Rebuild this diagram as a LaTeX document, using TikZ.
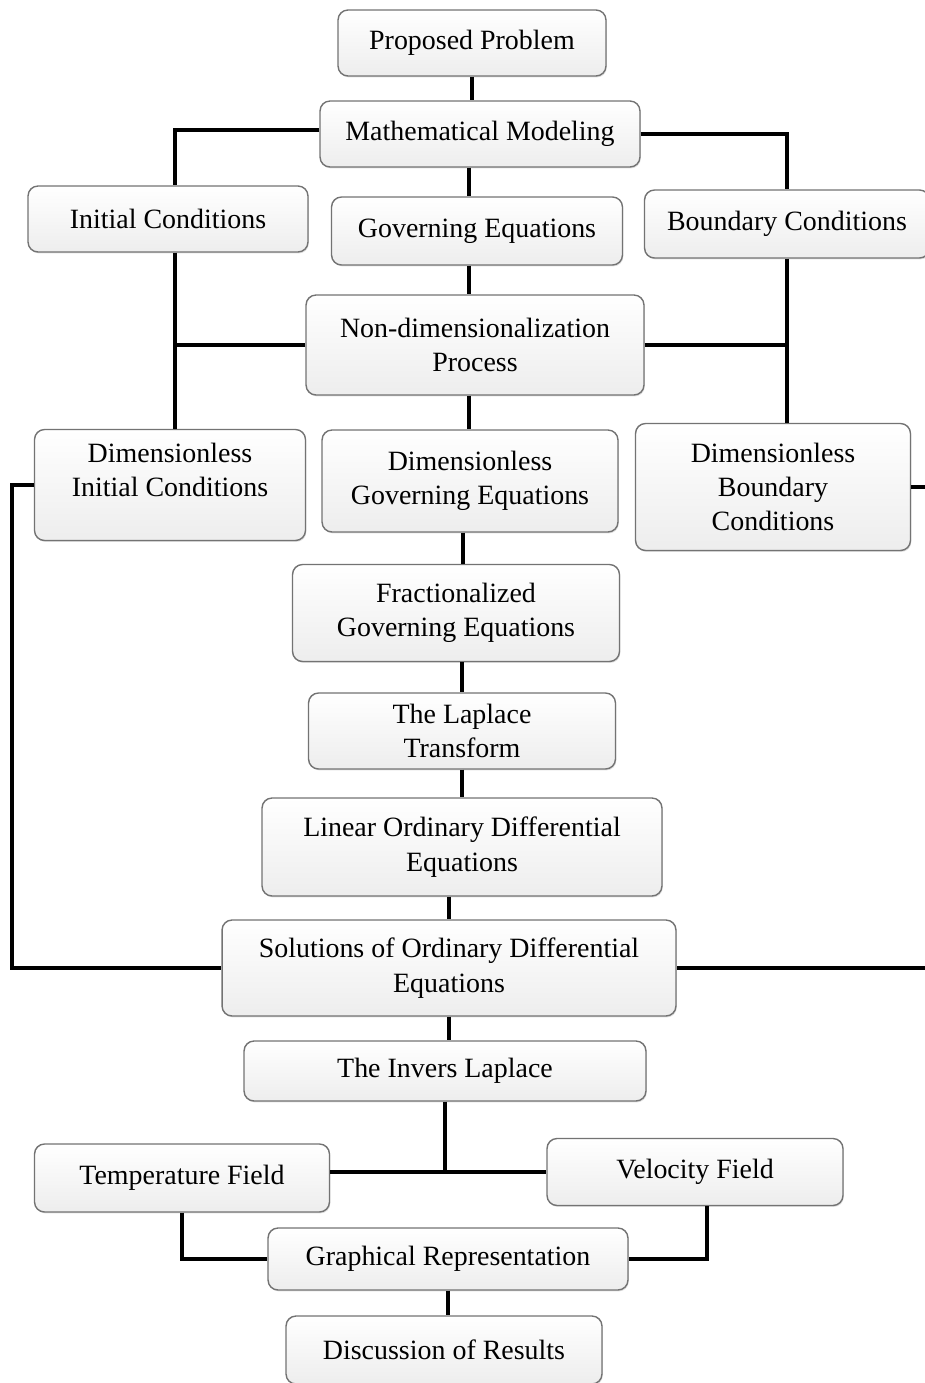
\documentclass[tikz,border=0pt]{standalone}
\usepackage{fontspec}
\setmainfont{Liberation Serif}
\usetikzlibrary{shadows}

\begin{document}
\begin{tikzpicture}[x=0.02cm, y=-0.02cm,
        box/.style={draw=black!55, line width=0.8pt, rounded corners=0.2cm,
            top color=white, bottom color=black!7, align=center, inner sep=0pt,
            drop shadow={opacity=0.25, shadow xshift=0.5pt, shadow yshift=-0.8pt},
            font=\fontsize{15.9}{19.5}\selectfont},
        link/.style={line width=2.2pt, black}]
        \useasboundingbox (0, 0) rectangle (925, 1383);

        % top part
        \node[box, minimum width=5.36cm, minimum height=1.32cm] (pp) at (472, 43) {Proposed Problem};
        \node[box, minimum width=6.4cm, minimum height=1.32cm] (mm) at (480, 134) {Mathematical Modeling};
        \node[box, minimum width=5.6cm, minimum height=1.32cm] (ic) at (168, 219) {Initial Conditions};
        \node[box, minimum width=5.82cm, minimum height=1.36cm] (ge) at (477, 231) {Governing Equations};
        \node[box, minimum width=5.7cm, minimum height=1.36cm] (bc) at (787, 224) {Boundary Conditions};
        \node[box, minimum width=6.76cm, minimum height=2cm] (nd) at (475, 345) {Non-dimensionalization\\Process};
        \node[box, minimum width=5.42cm, minimum height=2.22cm] (dic) at (170, 485) {Dimensionless\\Initial Conditions\\[-2.5pt]};
        \node[box, minimum width=5.92cm, minimum height=2.04cm] (dge) at (470, 481) {Dimensionless\\Governing Equations};
        \node[box, minimum width=5.5cm, minimum height=2.54cm] (dbc) at (773, 487) {Dimensionless\\Boundary\\Conditions};

        % middle column
        \node[box, minimum width=6.54cm, minimum height=1.94cm] (fge) at (456, 613) {Fractionalized\\Governing Equations};
        \node[box, minimum width=6.14cm, minimum height=1.52cm] (lt) at (462, 731) {The Laplace\\Transform};
        \node[box, minimum width=8cm, minimum height=1.96cm] (lode) at (462, 847) {Linear Ordinary Differential\\Equations};
        \node[box, minimum width=9.08cm, minimum height=1.92cm] (sol) at (449, 968) {Solutions of Ordinary Differential\\Equations};
        \node[box, minimum width=8.04cm, minimum height=1.2cm] (il) at (445, 1071) {The Invers Laplace};

        % bottom part
        \node[box, minimum width=5.9cm, minimum height=1.36cm] (tf) at (182, 1178) {Temperature Field};
        \node[box, minimum width=5.92cm, minimum height=1.34cm] (vf) at (695, 1172) {Velocity Field};
        \node[box, minimum width=7.2cm, minimum height=1.24cm] (gr) at (448, 1259) {Graphical Representation};
        \node[box, minimum width=6.32cm, minimum height=1.36cm] (dr) at (444, 1350) {Discussion of Results};

        \coordinate (lft) at (12, 0);
        \coordinate (rgt) at (960, 0);
        \coordinate (top) at (469, 0);
        \coordinate (mid) at (463, 0);
        \coordinate (fork) at (il.south |- vf.west);
        \coordinate (icd) at ([xshift=0.14cm]ic.south);
        \coordinate (vfd) at ([xshift=0.24cm]vf.south);

        \draw[link] (pp.south) -- (pp.south |- mm.north);
        \draw[link] ([yshift=0.08cm]mm.west) -| (icd |- ic.north);
        \draw[link] (mm.east) -| (bc.north);
        \draw[link] (top |- mm.south) -- (top |- ge.north);
        \draw[link] (top |- ge.south) -- (top |- nd.north);
        \draw[link] (icd) -- (icd |- dic.north);
        \draw[link] (nd.west) -- (nd.west -| icd);
        \draw[link] (bc.south) -- (bc.south |- dbc.north);
        \draw[link] (nd.east) -- (nd.east -| bc.south);
        \draw[link] (top |- nd.south) -- (top |- dge.north);
        \draw[link] (mid |- dge.south) -- (mid |- fge.north);
        \draw[link] (lt.north |- fge.south) -- (lt.north);
        \draw[link] (lt.south) -- (lt.south |- lode.north);
        \draw[link] (sol.north |- lode.south) -- (sol.north);
        \draw[link] (dic.west) -- (dic.west -| lft) |- (sol.west);
        \draw[link] (dbc.east) -- (dbc.east -| rgt) |- (sol.east);
        \draw[link] (sol.south) -- (sol.south |- il.north);
        \draw[link] (il.south) -- (fork);
        \draw[link] (tf.east |- fork) -- (vf.west);
        \draw[link] (tf.south) |- (gr.west);
        \draw[link] (vfd) |- (gr.east);
        \draw[link] (gr.south) -- (gr.south |- dr.north);

    \end{tikzpicture}
\end{document}
